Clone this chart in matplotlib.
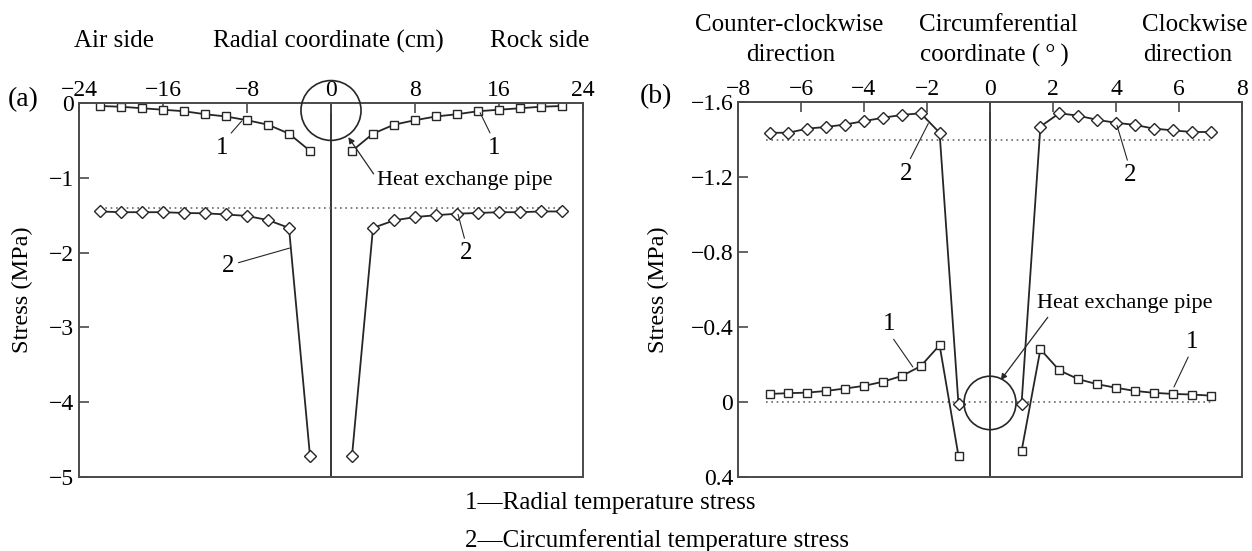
import numpy as np
import matplotlib
matplotlib.use("Agg")
import matplotlib.pyplot as plt
from matplotlib.patches import Ellipse

plt.rcParams['font.family'] = ['Liberation Serif', 'DejaVu Serif']
plt.rcParams['mathtext.fontset'] = 'stix'

# ---------------------------------------------------------------------
# Data
# ---------------------------------------------------------------------
# (a) radial coordinate (cm)
ra_left = [-22, -20, -18, -16, -14, -12, -10, -8, -6, -4, -2]
ra_right = [2, 4, 6, 8, 10, 12, 14, 16, 18, 20, 22]
radial_a_left = [-0.04, -0.05, -0.07, -0.09, -0.11, -0.15, -0.18, -0.23, -0.29, -0.41, -0.64]
radial_a_right = [-0.64, -0.41, -0.29, -0.23, -0.18, -0.15, -0.11, -0.09, -0.07, -0.05, -0.04]
circ_a_left = [-1.45, -1.46, -1.46, -1.46, -1.47, -1.475, -1.49, -1.51, -1.565, -1.67, -4.72]
circ_a_right = [-4.72, -1.67, -1.57, -1.525, -1.50, -1.48, -1.47, -1.46, -1.46, -1.45, -1.45]
ref_a_x = [-22, 22]
ref_a_y = [-1.41, -1.41]

# (b) circumferential coordinate (deg)
cb_left = [-7.0, -6.4, -5.8, -5.2, -4.6, -4.0, -3.4, -2.8, -2.2, -1.6, -1.0]
cb_right = [1.0, 1.6, 2.2, 2.8, 3.4, 4.0, 4.6, 5.2, 5.8, 6.4, 7.0]
radial_b_left = [-0.043, -0.047, -0.050, -0.059, -0.072, -0.086, -0.108, -0.139, -0.191, -0.303, 0.288]
radial_b_right = [0.263, -0.281, -0.169, -0.122, -0.095, -0.076, -0.059, -0.049, -0.043, -0.040, -0.034]
circ_b_left = [-1.436, -1.436, -1.458, -1.467, -1.480, -1.498, -1.516, -1.531, -1.540, -1.436, 0.013]
circ_b_right = [0.013, -1.469, -1.540, -1.527, -1.505, -1.489, -1.478, -1.458, -1.449, -1.440, -1.440]
ref_b_x = [-7.1, 7.1]
ref_b_y1 = [-1.40, -1.40]
ref_b_y0 = [0.0, 0.0]

xticks_a = [-24, -16, -8, 0, 8, 16, 24]
yticks_a = [0, -1, -2, -3, -4, -5]
xticks_b = [-8, -6, -4, -2, 0, 2, 4, 6, 8]
yticks_b = [-1.6, -1.2, -0.8, -0.4, 0, 0.4]
yticklabels_b = ['\u22121.6', '\u22121.2', '\u22120.8', '\u22120.4', '0', '0.4']

# ---------------------------------------------------------------------
W, H = 1252, 551
fig = plt.figure(figsize=(W / 100, H / 100), dpi=100)


def fx(px):
    return px / W


def fy(py):
    return 1 - py / H


LC = '#262626'
SC = '#4a4a4a'
sq = dict(color=LC, lw=1.3, marker='s', ms=5.4, mfc='white', mec=LC, mew=1.0)
di = dict(color=LC, lw=1.3, marker='D', ms=5.7, mfc='white', mec=LC, mew=1.0)
dot = dict(color='#666666', lw=1.2, linestyle=(0, (1, 2.2)))


def style_axes(ax):
    for side in ax.spines:
        ax.spines[side].set_color(SC)
        ax.spines[side].set_linewidth(1.4)
    ax.xaxis.set_ticks_position('top')
    ax.tick_params(axis='x', direction='in', length=7, width=1.2, color=SC,
                   labelsize=17, pad=1.5, top=True, bottom=False)
    ax.tick_params(axis='y', direction='in', length=7, width=1.2, color=SC,
                   labelsize=17, pad=3.5, left=True, right=False)
    ax.axvline(0, color=LC, lw=1.3, zorder=1)


# ---------------------------- panel (a) ------------------------------
ax1 = fig.add_axes([fx(79), fy(477), fx(504), fy(103) - fy(477)])
style_axes(ax1)
ax1.set_xlim(-24, 24)
ax1.set_ylim(-5, 0)
ax1.set_xticks(xticks_a)
ax1.set_yticks(yticks_a)

ax1.plot(ref_a_x, ref_a_y, **dot)
ax1.plot(ra_left, radial_a_left, **sq)
ax1.plot(ra_right, radial_a_right, **sq)
ax1.plot(ra_left, circ_a_left, **di)
ax1.plot(ra_right, circ_a_right, **di)

ax1.add_patch(Ellipse((0, -0.1), 5.72, 0.8, fill=False, ec=LC, lw=1.2, clip_on=False, zorder=5))
ax1.annotate('Heat exchange pipe', xy=(1.65, -0.457), xytext=(4.4, -1.03),
             fontsize=16, ha='left', va='center',
             arrowprops=dict(arrowstyle='-|>', color=LC, lw=0.9, mutation_scale=9,
                             relpos=(0, 0.55), shrinkA=1, shrinkB=0))

lead = dict(arrowstyle='-', color=LC, lw=0.8, shrinkA=1, shrinkB=0)
ax1.annotate('1', xy=(-8.5, -0.24), xytext=(-10.4, -0.60), fontsize=18, ha='center', va='center',
             arrowprops=dict(relpos=(0.75, 0.85), **lead))
ax1.annotate('1', xy=(14.2, -0.13), xytext=(15.5, -0.60), fontsize=18, ha='center', va='center',
             arrowprops=dict(relpos=(0.4, 0.95), **lead))
ax1.annotate('2', xy=(-3.95, -1.94), xytext=(-9.8, -2.18), fontsize=18, ha='center', va='center',
             arrowprops=dict(relpos=(1.0, 0.6), **lead))
ax1.annotate('2', xy=(12.1, -1.49), xytext=(12.9, -2.01), fontsize=18, ha='center', va='center',
             arrowprops=dict(relpos=(0.45, 0.95), **lead))

# ---------------------------- panel (b) ------------------------------
ax2 = fig.add_axes([fx(738), fy(477), fx(504), fy(102) - fy(477)])
style_axes(ax2)
ax2.set_xlim(-8, 8)
ax2.set_ylim(0.4, -1.6)
ax2.set_xticks(xticks_b)
ax2.set_yticks(yticks_b)
ax2.set_yticklabels(yticklabels_b)

ax2.plot(ref_b_x, ref_b_y1, **dot)
ax2.plot(ref_b_x, ref_b_y0, **dot)
ax2.plot(cb_left, radial_b_left, **sq)
ax2.plot(cb_right, radial_b_right, **sq)
ax2.plot(cb_left, circ_b_left, **di)
ax2.plot(cb_right, circ_b_right, **di)

ax2.add_patch(Ellipse((0, 0.005), 1.65, 0.285, fill=False, ec=LC, lw=1.2, zorder=5))
ax2.annotate('Heat exchange pipe', xy=(0.34, -0.117), xytext=(1.48, -0.523),
             fontsize=16, ha='left', va='center',
             arrowprops=dict(arrowstyle='-|>', color=LC, lw=0.9, mutation_scale=9,
                             relpos=(0.08, 0.0), shrinkA=1, shrinkB=0))

ax2.annotate('1', xy=(-2.45, -0.187), xytext=(-3.21, -0.414), fontsize=18, ha='center', va='center',
             arrowprops=dict(relpos=(0.6, 0.05), **lead))
ax2.annotate('1', xy=(5.84, -0.08), xytext=(6.41, -0.32), fontsize=18, ha='center', va='center',
             arrowprops=dict(relpos=(0.4, 0.05), **lead))
ax2.annotate('2', xy=(-1.96, -1.485), xytext=(-2.65, -1.218), fontsize=18, ha='center', va='center',
             arrowprops=dict(relpos=(0.6, 0.95), **lead))
ax2.annotate('2', xy=(4.03, -1.476), xytext=(4.45, -1.209), fontsize=18, ha='center', va='center',
             arrowprops=dict(relpos=(0.4, 0.95), **lead))

# ---------------------------- figure texts ---------------------------
fs = 18
fig.text(fx(74), fy(41), 'Air side', fontsize=fs, ha='left', va='center')
fig.text(fx(213), fy(41), 'Radial coordinate (cm)', fontsize=fs, ha='left', va='center')
fig.text(fx(540), fy(41), 'Rock side', fontsize=fs, ha='center', va='center')
fig.text(fx(789), fy(25), 'Counter-clockwise', fontsize=fs, ha='center', va='center')
fig.text(fx(791), fy(55), 'direction', fontsize=fs, ha='center', va='center')
fig.text(fx(998), fy(25), 'Circumferential', fontsize=fs, ha='center', va='center')
fig.text(fx(994), fy(55), 'coordinate (\u2009\u00b0\u2009)', fontsize=fs, ha='center', va='center')
fig.text(fx(1195), fy(25), 'Clockwise', fontsize=fs, ha='center', va='center')
fig.text(fx(1188), fy(55), 'direction', fontsize=fs, ha='center', va='center')

fig.text(fx(8), fy(100), '(a)', fontsize=20, ha='left', va='center')
fig.text(fx(640), fy(97), '(b)', fontsize=20, ha='left', va='center')

fig.text(fx(22), fy(290), 'Stress (MPa)', fontsize=17.5, rotation=90, ha='center', va='center')
fig.text(fx(658), fy(290), 'Stress (MPa)', fontsize=17.5, rotation=90, ha='center', va='center')

fig.text(fx(465), fy(509), '1\u2014Radial temperature stress', fontsize=fs, ha='left', va='baseline')
fig.text(fx(465), fy(547), '2\u2014Circumferential temperature stress', fontsize=fs, ha='left', va='baseline')

fig.savefig('out.png', dpi=100)
